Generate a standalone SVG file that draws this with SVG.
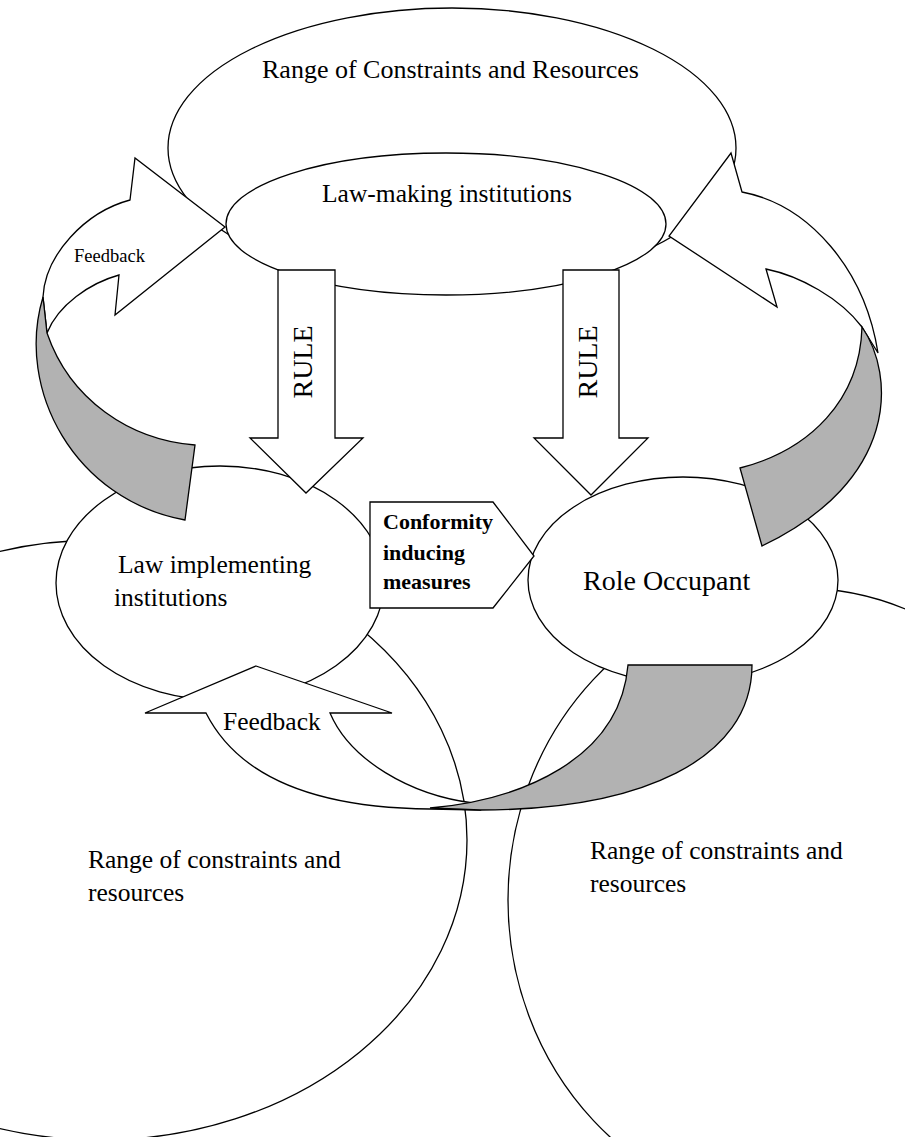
<svg xmlns="http://www.w3.org/2000/svg" width="905" height="1137" viewBox="0 0 905 1137">
  <style>
    .shape { fill: #ffffff; stroke: #000000; stroke-width: 1.3; stroke-linejoin: miter; }
    .band { fill: #b2b2b2; stroke: #000000; stroke-width: 1.3; stroke-linejoin: miter; }
    .lbl { font-family: "Liberation Serif", "Times New Roman", serif; font-size: 25.5px; fill: #000000; }
    .big { font-size: 28px; }
    .small { font-size: 18.5px; }
    .bold { font-family: "Liberation Serif", "Times New Roman", serif; font-size: 22px; font-weight: bold; fill: #000000; }
  </style>
  <rect width="905" height="1137" fill="#ffffff"/>

  <!-- outer environment circles (bottom) -->
  <g id="range-left">
    <ellipse class="shape" cx="100" cy="840" rx="367" ry="300"/>
    <text class="lbl" x="88" y="868">Range of constraints and</text>
    <text class="lbl" x="88" y="901">resources</text>
  </g>
  <g id="range-right">
    <ellipse class="shape" cx="800" cy="900" rx="292" ry="312"/>
    <text class="lbl" x="590" y="859">Range of constraints and</text>
    <text class="lbl" x="590" y="892">resources</text>
  </g>

  <!-- outer environment circle (top) -->
  <g id="range-top">
    <ellipse class="shape" cx="452" cy="148" rx="284" ry="140"/>
    <text class="lbl" x="262" y="78" style="font-size:26px">Range of Constraints and Resources</text>
  </g>

  <!-- implementing agencies and addressees -->
  <g id="law-implementing">
    <ellipse class="shape" cx="220" cy="583" rx="164" ry="117"/>
    <text class="lbl" x="118" y="573">Law implementing</text>
    <text class="lbl" x="114" y="606">institutions</text>
  </g>
  <g id="role-occupant">
    <ellipse class="shape" cx="683" cy="580" rx="155" ry="103"/>
    <text class="lbl big" x="583" y="590">Role Occupant</text>
  </g>

  <!-- legislature -->
  <g id="law-making">
    <ellipse class="shape" cx="446" cy="224" rx="220" ry="71"/>
    <text class="lbl" x="322" y="202">Law-making institutions</text>
  </g>

  <g id="connectors">
    <!-- feedback loop, left: twisted ribbon ending in an arrowhead -->
    <g id="feedback-left">
      <path class="shape" d="M130,200 L135,158 L225,227 L115,315 L119,275 C90,283 58,305 47,333 L43,297 C45,255 85,212 130,200 Z"/>
      <path class="band" d="M43,297 C15,390 75,500 185,520 L195,445 C130,440 70,400 47,333 Z"/>
      <text class="lbl small" x="74" y="262">Feedback</text>
    </g>
    <!-- feedback loop, right -->
    <g id="feedback-right">
      <path class="shape" d="M742,192 L731,153 L669,236 L777,307 L766,269 C800,276 840,298 862,327 L878,353 C865,270 810,205 742,192 Z"/>
      <path class="band" d="M862,327 C895,375 900,480 762,546 L740,468 C810,450 860,400 862,327 Z"/>
    </g>
    <!-- rules passed down -->
    <g id="rule-left">
      <path class="shape" d="M278,270 L335,270 L335,438 L363,438 L306,493 L250,438 L278,438 Z"/>
      <text class="lbl big" transform="translate(312,362) rotate(-90)" text-anchor="middle">RULE</text>
    </g>
    <g id="rule-right">
      <path class="shape" d="M563,270 L619,270 L619,438 L648,438 L591,495 L534,438 L563,438 Z"/>
      <text class="lbl big" transform="translate(597,362) rotate(-90)" text-anchor="middle">RULE</text>
    </g>
    <!-- feedback loop, bottom -->
    <g id="feedback-bottom">
      <path class="shape" d="M256,666 L392,713 L330,713 C350,760 410,795 473,803 L480,810 L430,809 C320,808 240,780 206,713 L145,713 Z"/>
      <path class="band" d="M430,808 C520,800 620,760 628,665 L752,665 C752,760 640,810 480,810 Z"/>
      <text class="lbl" x="223" y="730">Feedback</text>
    </g>
  </g>

  <g id="conformity">
    <path class="shape" d="M370,502 L493,502 L534,556 L493,608 L370,608 Z"/>
    <text class="bold" x="383" y="529">Conformity</text>
    <text class="bold" x="383" y="560">inducing</text>
    <text class="bold" x="383" y="589">measures</text>
  </g>
</svg>
